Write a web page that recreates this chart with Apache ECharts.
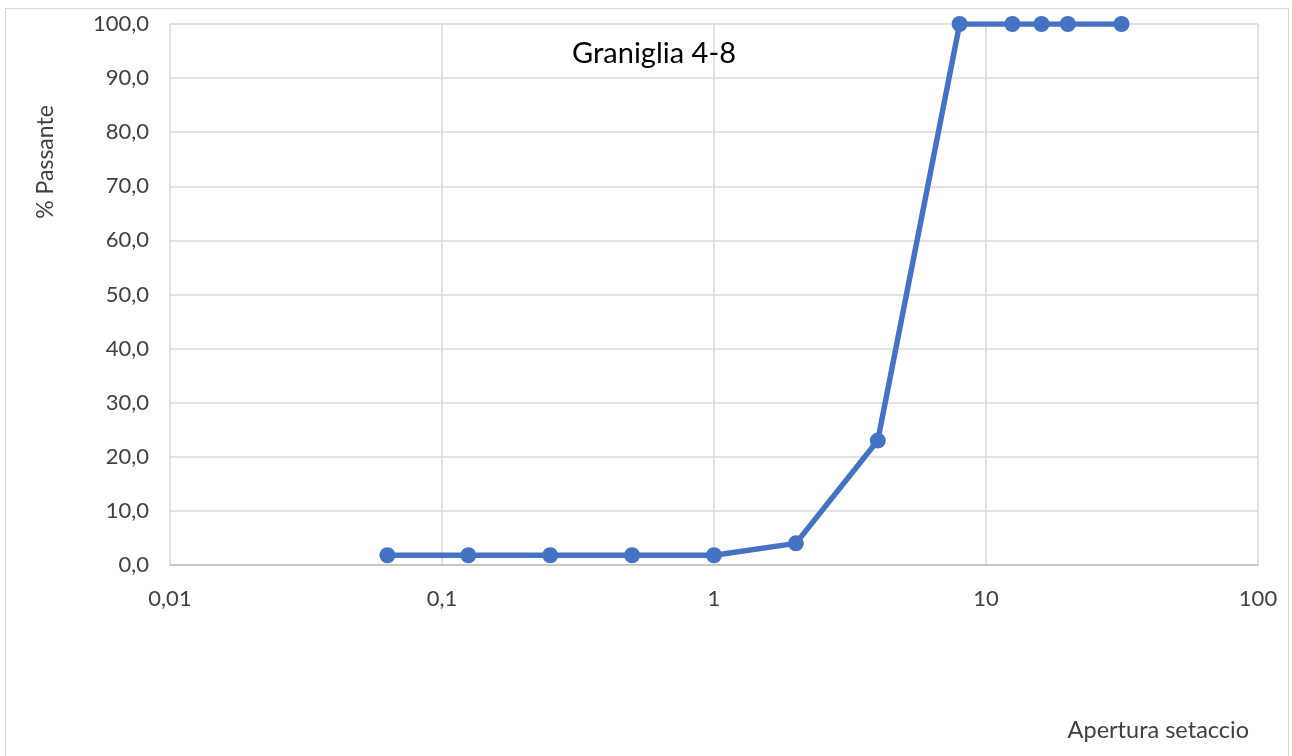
<!DOCTYPE html>
<html><head><meta charset="utf-8">
<script src="https://cdn.jsdelivr.net/npm/echarts@6/dist/echarts.min.js"></script>
<style>
html,body{margin:0;padding:0;background:#fff;}
#frame{position:absolute;left:5px;top:8px;width:1284px;height:760px;border:1.5px solid #d9d9d9;box-sizing:border-box;}
#c{position:absolute;left:0;top:0;width:1292px;height:756px;}
</style></head>
<body>
<div id="frame"></div>
<div id="c"></div>
<script>
const title = "Graniglia 4-8";
const xName = "Apertura setaccio";
const yName = "% Passante";
const sieveSizes = [0.063, 0.125, 0.25, 0.5, 1, 2, 4, 8, 12.5, 16, 20, 31.5];
const passing = [1.8, 1.8, 1.8, 1.8, 1.8, 4.0, 23.0, 100, 100, 100, 100, 100];

const chart = echarts.init(document.getElementById('c'), null, {renderer:'canvas'});
const fontFam = 'Lato, "Open Sans", sans-serif';
chart.setOption({
  animation:false,
  title:{text:title, left:649, top:34, textAlign:'center',
    textStyle:{fontFamily:fontFam, fontSize:29, fontWeight:'normal', color:'#000'}},
  grid:{left:170, right:34, top:24, bottom:191},
  graphic:[{type:'text', x:46, y:162, rotation:Math.PI/2,
    style:{text:yName, fontFamily:fontFam, fontSize:23, fill:'#404040', align:'center', verticalAlign:'middle'}},
    {type:'text', x:1249, y:730,
    style:{text:xName, fontFamily:fontFam, fontSize:23.5, fill:'#404040', align:'right', verticalAlign:'middle'}}],
  xAxis:{type:'log', logBase:10, min:0.01, max:100,
    axisLine:{show:true, lineStyle:{color:'#bfbfbf', width:1.5}},
    axisTick:{show:false},
    splitLine:{show:true, lineStyle:{color:'#d9d9d9', width:1.5}},
    minorTick:{show:false},
    axisLabel:{fontFamily:fontFam, fontSize:22, color:'#404040', margin:23,
      formatter:v=>String(v).replace('.',',')}},
  yAxis:{type:'value', min:0, max:100, interval:10,
    axisLine:{show:false}, axisTick:{show:false},
    splitLine:{show:true, lineStyle:{color:'#d9d9d9', width:1.5}},
    axisLabel:{fontFamily:fontFam, fontSize:22, color:'#404040', margin:21,
      formatter:v=>v.toFixed(1).replace('.',',')}},
  series:[{type:'line', data:sieveSizes.map((x,i)=>[x,passing[i]]),
    lineStyle:{color:'#4472C4', width:5.5},
    itemStyle:{color:'#4472C4'},
    symbol:'circle', symbolSize:16, z:5}]
});
</script>
</body></html>
